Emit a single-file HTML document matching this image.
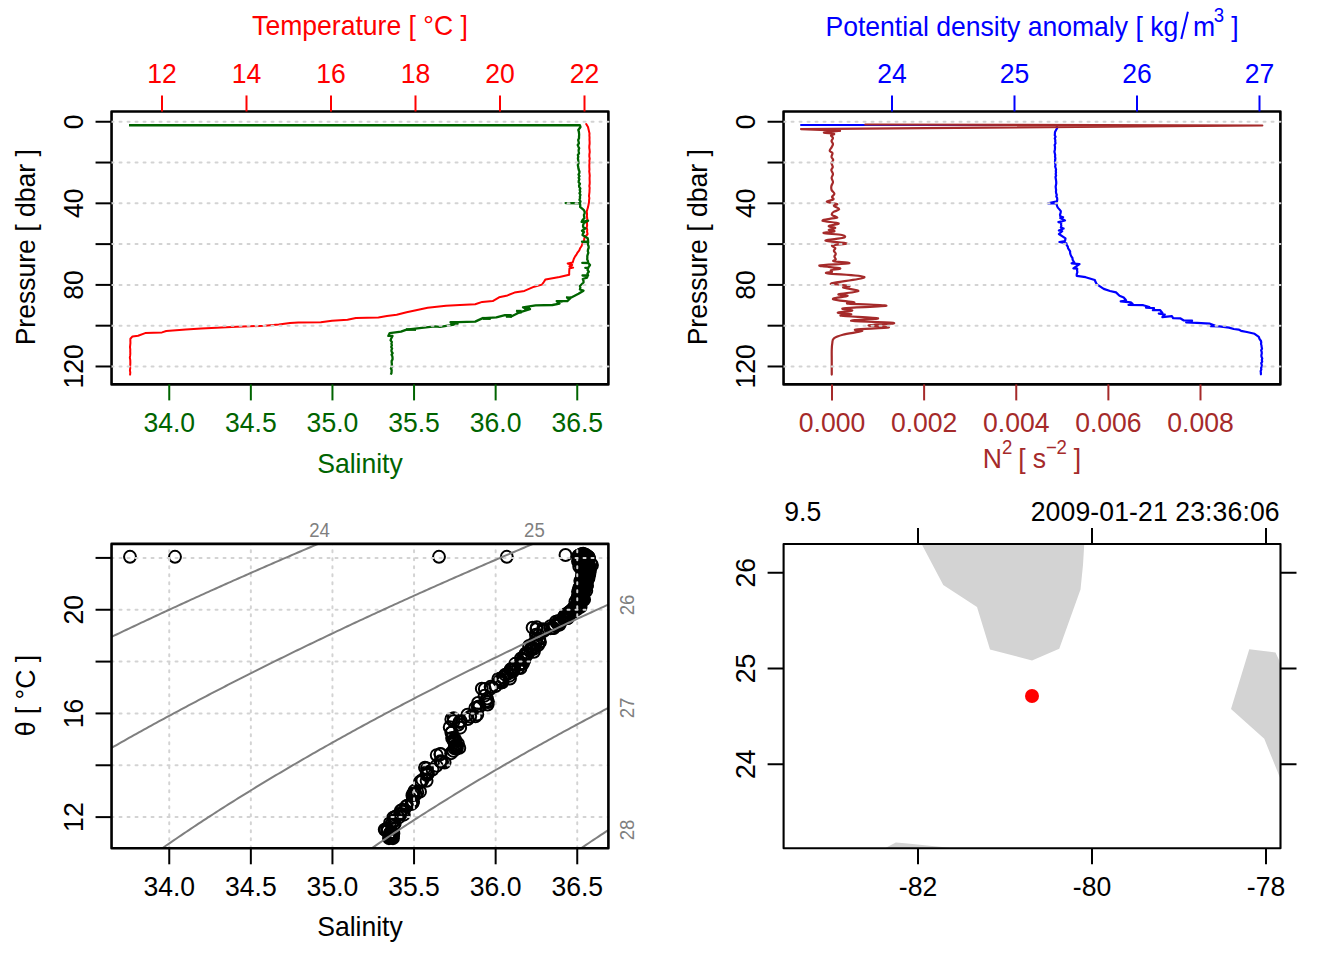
<!DOCTYPE html>
<html><head><meta charset="utf-8"><title>CTD</title>
<style>
html,body{margin:0;padding:0;background:#fff;}
body{width:1344px;height:960px;overflow:hidden;}
svg{display:block;font-family:"Liberation Sans",sans-serif;}
</style></head><body>
<svg width="1344" height="960" viewBox="0 0 1344 960" font-family="Liberation Sans, sans-serif">
<rect width="1344" height="960" fill="#fff"/>
<g id="p1">
<polyline points="586.20,124.00 588.00,127.00 589.50,133.40 589.36,135.47 589.55,137.55 589.46,139.62 589.61,141.70 589.64,143.78 589.31,145.85 589.30,147.93 589.60,150.00 589.76,152.14 589.37,154.29 589.31,156.43 589.73,158.57 589.37,160.71 589.54,162.86 589.30,165.00 589.33,167.14 589.47,169.29 589.22,171.43 589.55,173.57 589.74,175.71 589.57,177.86 589.60,180.00 589.72,182.00 589.66,184.00 589.28,186.00 589.67,188.00 589.50,190.00 589.47,192.03 589.21,194.07 588.97,196.10 589.39,198.13 589.07,200.17 589.00,202.20 588.56,204.55 588.08,206.90 587.40,209.25 586.70,211.60 587.08,213.93 586.89,216.25 587.26,218.57 587.20,220.90 587.00,223.10 587.13,225.30 586.70,227.50 587.23,229.67 587.06,231.83 587.60,234.00 584.40,237.80 583.90,241.10 582.48,243.68 581.50,246.25 580.08,248.28 579.28,250.30 577.71,252.32 576.58,254.35 575.13,256.38 574.00,258.40 573.30,260.50 572.60,262.60 567.70,263.60 572.20,265.00 569.40,266.40 573.10,267.60 569.40,268.50 569.26,270.60 569.18,272.70 569.20,274.80 559.50,276.90 545.50,279.40 543.80,282.00 542.00,284.60 534.20,286.70 524.40,290.90 514.50,292.60 507.50,295.40 499.10,297.30 492.70,301.10 482.20,301.90 475.20,304.20 460.00,305.00 446.00,305.70 427.70,307.80 406.60,312.30 396.70,314.80 386.90,316.00 378.40,317.40 355.90,317.90 347.50,319.80 332.00,320.75 320.80,322.20 298.30,322.60 290.00,323.00 278.80,324.40 264.70,325.80 236.60,326.80 201.40,328.60 185.90,329.60 166.30,331.00 162.00,332.40 145.20,333.10 138.10,335.70 132.50,336.40 130.40,338.75 130.35,340.86 130.44,342.98 130.21,345.09 130.00,347.20 130.27,349.31 130.23,351.42 130.32,353.52 130.13,355.63 129.84,357.74 130.26,359.85 130.33,361.95 130.30,364.06 130.11,366.17 130.21,368.28 129.91,370.38 130.29,372.49 130.10,374.60" fill="none" stroke="#ff0000" stroke-width="2" stroke-linejoin="round" stroke-linecap="round"/>
<polyline points="129.00,125.10 579.90,125.10 580.50,127.00 578.30,130.00 578.82,131.50 579.00,133.00 579.14,134.75 579.01,136.50 579.02,138.25 578.20,140.00 578.60,141.67 578.92,143.33 577.74,145.00 578.42,146.67 579.15,148.33 578.60,150.00 578.74,151.67 579.03,153.33 577.86,155.00 578.29,156.67 577.91,158.33 578.20,160.00 578.36,161.67 578.50,163.33 577.82,165.00 578.20,166.67 578.39,168.33 578.80,170.00 579.45,171.54 579.31,173.08 578.53,174.62 579.49,176.15 578.64,177.69 579.38,179.23 578.76,180.77 578.66,182.31 579.94,183.85 579.09,185.38 579.16,186.92 580.31,188.46 579.70,190.00 580.25,191.64 579.46,193.28 580.42,194.91 579.85,196.55 580.07,198.19 579.44,199.82 580.49,201.46 579.90,203.10 565.60,203.10 579.90,203.30 580.27,205.10 580.10,206.90 583.90,210.20 584.65,211.78 584.65,213.36 583.92,214.94 584.11,216.52 584.40,218.10 582.53,220.00 581.60,221.90 588.10,220.75 584.00,223.00 583.30,224.50 582.99,226.00 583.40,227.50 585.50,228.30 582.00,230.80 584.00,232.00 582.97,233.50 582.50,235.00 587.70,238.30 588.04,239.95 588.10,241.60 582.00,241.75 588.30,242.00 587.75,244.12 588.60,246.25 588.67,247.89 588.02,249.54 587.81,251.18 588.35,252.82 587.70,254.47 587.29,256.11 587.35,257.76 587.20,259.40 587.94,261.05 588.10,262.70 582.30,262.90 588.50,263.20 590.00,265.00 588.10,267.80 585.30,267.80 588.20,268.20 587.55,269.98 588.82,271.75 587.46,273.52 588.10,275.30 582.50,275.50 587.70,275.80 587.00,277.60 582.80,279.00 583.50,280.75 583.50,282.50 579.90,286.00 580.38,287.75 579.90,289.50 583.50,290.70 578.50,293.75 570.80,297.70 567.30,301.10 556.70,301.10 559.50,303.60 552.50,305.00 535.60,305.30 523.00,307.30 530.00,309.20 518.80,312.70 511.70,316.25 505.00,315.20 496.30,317.40 482.20,318.40 475.20,321.60 458.30,322.20 450.50,322.20 454.10,324.70 440.00,326.80 434.70,326.40 406.60,329.60 401.00,331.70 389.70,333.10 388.30,335.90 392.50,335.90 391.10,338.75 390.59,340.39 391.84,342.03 391.41,343.68 391.88,345.32 391.25,346.96 392.10,348.60 391.44,350.14 391.60,351.67 392.66,353.21 391.57,354.75 392.32,356.28 392.54,357.82 392.53,359.35 391.66,360.89 391.65,362.43 391.86,363.96 391.80,365.50 392.02,367.02 390.92,368.53 391.65,370.05 391.55,371.57 391.47,373.08 390.80,374.60" fill="none" stroke="#006400" stroke-width="2.3" stroke-linejoin="round" stroke-linecap="butt"/>
<line x1="129.00" y1="126.40" x2="579.00" y2="126.40" stroke="#006400" stroke-width="1.2" stroke-opacity="0.35"/>
<line x1="523.70" y1="307.90" x2="530.00" y2="307.90" stroke="#006400" stroke-width="1.8" />
<line x1="524.20" y1="309.10" x2="530.00" y2="309.10" stroke="#006400" stroke-width="1.8" />
<line x1="523.70" y1="307.90" x2="530.00" y2="309.10" stroke="#006400" stroke-width="1.6" />
<line x1="516.00" y1="310.70" x2="521.60" y2="310.70" stroke="#006400" stroke-width="1.8" />
<line x1="516.50" y1="312.60" x2="521.60" y2="312.60" stroke="#006400" stroke-width="1.8" />
<line x1="516.00" y1="310.70" x2="521.60" y2="312.60" stroke="#006400" stroke-width="1.6" />
<line x1="505.40" y1="314.90" x2="511.70" y2="314.90" stroke="#006400" stroke-width="1.8" />
<line x1="505.90" y1="316.90" x2="511.70" y2="316.90" stroke="#006400" stroke-width="1.8" />
<line x1="505.40" y1="314.90" x2="511.70" y2="316.90" stroke="#006400" stroke-width="1.6" />
<line x1="482.20" y1="317.80" x2="490.60" y2="317.80" stroke="#006400" stroke-width="1.8" />
<line x1="482.70" y1="319.00" x2="490.60" y2="319.00" stroke="#006400" stroke-width="1.8" />
<line x1="482.20" y1="317.80" x2="490.60" y2="319.00" stroke="#006400" stroke-width="1.6" />
<line x1="450.50" y1="322.70" x2="458.30" y2="322.70" stroke="#006400" stroke-width="1.8" />
<line x1="451.00" y1="323.90" x2="458.30" y2="323.90" stroke="#006400" stroke-width="1.8" />
<line x1="450.50" y1="322.70" x2="458.30" y2="323.90" stroke="#006400" stroke-width="1.6" />
<line x1="556.70" y1="301.30" x2="562.40" y2="301.30" stroke="#006400" stroke-width="1.8" />
<line x1="557.20" y1="301.40" x2="562.40" y2="301.40" stroke="#006400" stroke-width="1.8" />
<line x1="556.70" y1="301.30" x2="562.40" y2="301.40" stroke="#006400" stroke-width="1.6" />
<line x1="406.00" y1="329.40" x2="416.00" y2="329.40" stroke="#006400" stroke-width="1.8" />
<line x1="406.50" y1="329.80" x2="416.00" y2="329.80" stroke="#006400" stroke-width="1.8" />
<line x1="406.00" y1="329.40" x2="416.00" y2="329.80" stroke="#006400" stroke-width="1.6" />
<line x1="566.00" y1="297.30" x2="571.00" y2="297.30" stroke="#006400" stroke-width="1.8" />
<line x1="566.50" y1="298.20" x2="571.00" y2="298.20" stroke="#006400" stroke-width="1.8" />
<line x1="566.00" y1="297.30" x2="571.00" y2="298.20" stroke="#006400" stroke-width="1.6" />
<rect x="111.55" y="111.45" width="496.85" height="272.95" fill="none" stroke="#000" stroke-width="2.6" stroke-linejoin="round"/>
<line x1="111.55" y1="121.75" x2="608.40" y2="121.75" stroke="#d3d3d3" stroke-width="2" stroke-dasharray="2 6" stroke-linecap="round"/>
<line x1="111.55" y1="162.54" x2="608.40" y2="162.54" stroke="#d3d3d3" stroke-width="2" stroke-dasharray="2 6" stroke-linecap="round"/>
<line x1="111.55" y1="203.33" x2="608.40" y2="203.33" stroke="#d3d3d3" stroke-width="2" stroke-dasharray="2 6" stroke-linecap="round"/>
<line x1="111.55" y1="244.11" x2="608.40" y2="244.11" stroke="#d3d3d3" stroke-width="2" stroke-dasharray="2 6" stroke-linecap="round"/>
<line x1="111.55" y1="284.90" x2="608.40" y2="284.90" stroke="#d3d3d3" stroke-width="2" stroke-dasharray="2 6" stroke-linecap="round"/>
<line x1="111.55" y1="325.69" x2="608.40" y2="325.69" stroke="#d3d3d3" stroke-width="2" stroke-dasharray="2 6" stroke-linecap="round"/>
<line x1="111.55" y1="366.48" x2="608.40" y2="366.48" stroke="#d3d3d3" stroke-width="2" stroke-dasharray="2 6" stroke-linecap="round"/>
<line x1="95.55" y1="121.75" x2="111.55" y2="121.75" stroke="#000" stroke-width="2" />
<line x1="95.55" y1="162.54" x2="111.55" y2="162.54" stroke="#000" stroke-width="2" />
<line x1="95.55" y1="203.33" x2="111.55" y2="203.33" stroke="#000" stroke-width="2" />
<line x1="95.55" y1="244.11" x2="111.55" y2="244.11" stroke="#000" stroke-width="2" />
<line x1="95.55" y1="284.90" x2="111.55" y2="284.90" stroke="#000" stroke-width="2" />
<line x1="95.55" y1="325.69" x2="111.55" y2="325.69" stroke="#000" stroke-width="2" />
<line x1="95.55" y1="366.48" x2="111.55" y2="366.48" stroke="#000" stroke-width="2" />
<text transform="translate(82.50 121.75) rotate(-90) scale(1 1.05)" fill="#000" font-size="26.56" text-anchor="middle" >0</text>
<text transform="translate(82.50 203.33) rotate(-90) scale(1 1.05)" fill="#000" font-size="26.56" text-anchor="middle" >40</text>
<text transform="translate(82.50 284.90) rotate(-90) scale(1 1.05)" fill="#000" font-size="26.56" text-anchor="middle" >80</text>
<text transform="translate(82.50 366.48) rotate(-90) scale(1 1.05)" fill="#000" font-size="26.56" text-anchor="middle" >120</text>
<text transform="translate(35.10 247.22) rotate(-90) scale(1 1.05)" fill="#000" font-size="26.56" text-anchor="middle" >Pressure [ dbar ]</text>
<line x1="162.00" y1="95.45" x2="162.00" y2="111.45" stroke="#ff0000" stroke-width="2" />
<text transform="translate(162.00 82.80) scale(1 1.05)" fill="#ff0000" font-size="26.56" text-anchor="middle" >12</text>
<line x1="246.50" y1="95.45" x2="246.50" y2="111.45" stroke="#ff0000" stroke-width="2" />
<text transform="translate(246.50 82.80) scale(1 1.05)" fill="#ff0000" font-size="26.56" text-anchor="middle" >14</text>
<line x1="331.00" y1="95.45" x2="331.00" y2="111.45" stroke="#ff0000" stroke-width="2" />
<text transform="translate(331.00 82.80) scale(1 1.05)" fill="#ff0000" font-size="26.56" text-anchor="middle" >16</text>
<line x1="415.50" y1="95.45" x2="415.50" y2="111.45" stroke="#ff0000" stroke-width="2" />
<text transform="translate(415.50 82.80) scale(1 1.05)" fill="#ff0000" font-size="26.56" text-anchor="middle" >18</text>
<line x1="500.00" y1="95.45" x2="500.00" y2="111.45" stroke="#ff0000" stroke-width="2" />
<text transform="translate(500.00 82.80) scale(1 1.05)" fill="#ff0000" font-size="26.56" text-anchor="middle" >20</text>
<line x1="584.50" y1="95.45" x2="584.50" y2="111.45" stroke="#ff0000" stroke-width="2" />
<text transform="translate(584.50 82.80) scale(1 1.05)" fill="#ff0000" font-size="26.56" text-anchor="middle" >22</text>
<text transform="translate(359.97 35.40) scale(1 1.05)" fill="#ff0000" font-size="26.56" text-anchor="middle" >Temperature [ °C ]</text>
<line x1="169.25" y1="384.40" x2="169.25" y2="400.40" stroke="#006400" stroke-width="2" />
<text transform="translate(169.25 431.60) scale(1 1.05)" fill="#006400" font-size="26.56" text-anchor="middle" >34.0</text>
<line x1="250.85" y1="384.40" x2="250.85" y2="400.40" stroke="#006400" stroke-width="2" />
<text transform="translate(250.85 431.60) scale(1 1.05)" fill="#006400" font-size="26.56" text-anchor="middle" >34.5</text>
<line x1="332.45" y1="384.40" x2="332.45" y2="400.40" stroke="#006400" stroke-width="2" />
<text transform="translate(332.45 431.60) scale(1 1.05)" fill="#006400" font-size="26.56" text-anchor="middle" >35.0</text>
<line x1="414.05" y1="384.40" x2="414.05" y2="400.40" stroke="#006400" stroke-width="2" />
<text transform="translate(414.05 431.60) scale(1 1.05)" fill="#006400" font-size="26.56" text-anchor="middle" >35.5</text>
<line x1="495.65" y1="384.40" x2="495.65" y2="400.40" stroke="#006400" stroke-width="2" />
<text transform="translate(495.65 431.60) scale(1 1.05)" fill="#006400" font-size="26.56" text-anchor="middle" >36.0</text>
<line x1="577.25" y1="384.40" x2="577.25" y2="400.40" stroke="#006400" stroke-width="2" />
<text transform="translate(577.25 431.60) scale(1 1.05)" fill="#006400" font-size="26.56" text-anchor="middle" >36.5</text>
<text transform="translate(359.97 472.60) scale(1 1.05)" fill="#006400" font-size="26.56" text-anchor="middle" >Salinity</text>
</g>
<g id="p2">
<polyline points="801.10,125.00 1056.60,125.00 1057.20,128.00 1056.06,130.00 1055.00,132.00 1054.93,133.60 1054.76,135.20 1055.55,136.80 1054.75,138.40 1055.30,140.00 1055.22,141.67 1055.53,143.33 1054.63,145.00 1055.02,146.67 1055.00,148.33 1054.80,150.00 1054.41,151.67 1054.81,153.33 1055.20,155.00 1055.02,156.67 1055.36,158.33 1055.20,160.00 1054.96,161.67 1055.14,163.33 1055.50,165.00 1055.16,166.50 1055.61,168.00 1056.07,169.50 1055.79,171.00 1056.02,172.50 1055.68,174.00 1056.10,175.50 1055.50,177.00 1055.74,178.50 1056.00,180.00 1056.19,181.67 1056.26,183.33 1055.97,185.00 1055.65,186.67 1055.85,188.33 1056.10,190.00 1055.94,191.61 1056.14,193.21 1056.80,194.82 1056.31,196.43 1057.13,198.04 1057.25,199.64 1057.00,201.25 1048.10,203.30 1056.60,203.30 1057.00,205.90 1057.82,207.63 1059.41,209.37 1060.80,211.10 1060.63,212.82 1059.99,214.53 1060.30,216.25 1063.10,217.20 1060.30,218.10 1065.00,220.50 1058.40,222.10 1061.25,222.80 1061.02,224.37 1061.36,225.93 1060.80,227.50 1063.60,228.60 1058.90,230.50 1062.20,231.25 1058.90,234.00 1065.50,238.30 1065.00,241.10 1059.40,242.00 1066.40,243.40 1066.68,245.01 1067.83,246.62 1068.02,248.22 1069.15,249.83 1070.13,251.44 1070.10,253.05 1070.57,254.66 1071.32,256.27 1072.44,257.88 1072.58,259.48 1073.32,261.09 1074.40,262.70 1071.60,263.30 1079.50,264.10 1073.40,268.30 1077.20,268.60 1077.07,270.40 1077.37,272.20 1076.75,274.00 1076.70,275.80 1085.60,277.20 1094.80,280.00 1095.60,282.05 1096.60,284.10 1103.75,288.90 1110.00,291.00 1116.00,292.40 1119.50,295.70 1123.70,297.50 1125.04,299.00 1126.10,300.50 1120.70,301.40 1130.80,302.30 1132.60,303.80 1128.50,305.00 1143.30,305.20 1149.30,307.00 1146.00,307.60 1154.00,308.20 1152.90,310.20 1160.00,310.00 1162.40,313.00 1158.80,313.60 1164.80,314.50 1162.40,317.10 1171.90,316.20 1173.10,318.10 1180.20,318.30 1183.80,320.50 1192.10,320.70 1186.20,322.50 1196.90,322.90 1210.00,323.70 1214.80,325.50 1210.60,326.10 1219.50,326.40 1229.00,327.60 1233.80,329.00 1238.60,329.60 1241.00,330.80 1246.90,332.00 1254.60,333.80 1258.80,336.80 1259.49,338.90 1261.00,341.00 1261.25,342.50 1261.01,344.00 1261.50,345.50 1261.64,347.11 1262.02,348.72 1261.15,350.33 1261.69,351.94 1261.77,353.56 1261.35,355.17 1261.50,356.78 1262.26,358.39 1261.80,360.00 1262.20,361.59 1261.22,363.18 1261.71,364.77 1261.85,366.36 1261.04,367.94 1261.31,369.53 1260.64,371.12 1260.87,372.71 1260.90,374.30" fill="none" stroke="#0000ff" stroke-width="2.2" stroke-linejoin="round" stroke-linecap="round"/>
<polyline points="865.30,124.50 1262.30,125.50 801.00,129.10 840.00,130.70" fill="none" stroke="#a52a2a" stroke-width="2.2" stroke-linejoin="round" stroke-linecap="round"/>
<path d="M840.00,130.70 C837.12,131.04 825.08,132.04 824.00,132.60 C822.92,133.16 832.74,133.28 834.00,133.80 C835.26,134.32 831.18,134.74 831.00,135.50 C830.82,136.26 832.91,137.01 833.00,138.00 C833.09,138.99 831.50,139.92 831.50,141.00 C831.50,142.08 832.95,142.92 833.00,144.00 C833.05,145.08 832.39,145.78 831.80,147.00 C831.21,148.22 829.57,149.72 829.70,150.80 C829.83,151.88 832.18,151.88 832.50,153.00 C832.82,154.12 831.37,155.74 831.50,157.00 C831.63,158.26 833.20,158.92 833.20,160.00 C833.20,161.08 831.57,161.74 831.50,163.00 C831.43,164.26 832.84,165.74 832.80,167.00 C832.76,168.26 831.26,168.74 831.30,170.00 C831.34,171.26 832.95,172.56 833.00,174.00 C833.05,175.44 831.60,176.56 831.60,178.00 C831.60,179.44 833.04,180.56 833.00,182.00 C832.96,183.44 831.65,184.56 831.40,186.00 C831.15,187.44 831.06,188.60 831.60,190.00 C832.14,191.40 834.33,192.49 834.40,193.75 C834.47,195.01 832.18,195.98 832.00,197.00 C831.82,198.02 834.32,198.61 833.40,199.40 C832.48,200.19 827.40,200.81 826.90,201.40 C826.40,201.99 828.75,202.21 830.60,202.70 C832.45,203.19 836.61,203.52 837.20,204.10 C837.79,204.68 833.53,204.98 833.90,205.90 C834.27,206.82 839.34,208.10 839.25,209.20 C839.16,210.30 834.70,210.99 833.40,212.00 C832.10,213.01 831.28,213.77 832.00,214.80 C832.72,215.83 837.65,217.02 837.40,217.70 C837.15,218.38 833.25,218.02 830.60,218.60 C827.95,219.18 821.26,220.05 822.70,220.90 C824.14,221.75 837.51,222.36 838.60,223.30 C839.69,224.24 829.34,225.25 828.75,226.10 C828.16,226.95 835.30,227.33 835.30,228.00 C835.30,228.67 828.91,229.22 828.75,229.80 C828.59,230.39 835.33,230.66 834.40,231.25 C833.47,231.84 822.25,232.42 823.60,233.10 C824.95,233.78 838.35,234.15 841.90,235.00 C845.45,235.85 846.25,236.79 843.30,237.80 C840.35,238.81 824.91,239.59 825.50,240.60 C826.09,241.61 845.34,242.55 846.60,243.40 C847.86,244.25 834.53,244.45 832.50,245.30 C830.47,246.15 835.05,247.09 835.30,248.10 C835.55,249.11 833.81,249.88 833.90,250.90 C833.99,251.92 835.71,252.72 835.80,253.75 C835.89,254.78 834.40,255.58 834.40,256.60 C834.40,257.62 835.89,258.56 835.80,259.40 C835.71,260.24 831.49,260.55 833.90,261.25 C836.31,261.95 851.81,262.54 849.20,263.30 C846.59,264.06 821.06,264.60 819.40,265.50 C817.74,266.40 837.89,267.45 840.00,268.30 C842.11,269.15 832.54,269.53 831.10,270.20 C829.66,270.87 832.59,271.42 832.00,272.00 C831.41,272.58 821.97,272.48 827.80,273.40 C833.63,274.32 863.55,275.35 864.40,277.10 C865.25,278.85 837.40,281.77 832.50,283.10 C827.60,284.43 834.16,283.96 837.20,284.50 C840.24,285.04 848.30,285.54 849.40,286.10 C850.50,286.66 841.70,286.70 843.30,287.60 C844.90,288.50 859.15,289.91 858.30,291.10 C857.45,292.29 840.54,293.35 838.60,294.20 C836.66,295.05 848.51,294.92 847.50,295.80 C846.49,296.68 831.83,297.93 833.00,299.10 C834.17,300.27 851.23,301.49 854.00,302.30 C856.77,303.11 842.57,302.97 848.40,303.60 C854.23,304.23 887.24,304.96 886.40,305.80 C885.56,306.64 849.91,307.40 843.75,308.25 C837.59,309.10 853.29,309.70 852.20,310.50 C851.11,311.30 837.87,312.05 837.70,312.70 C837.53,313.35 850.58,313.55 851.25,314.10 C851.92,314.65 836.58,314.99 841.40,315.75 C846.22,316.51 876.23,317.39 878.00,318.30 C879.77,319.21 848.39,319.95 851.25,320.80 C854.11,321.65 890.78,322.19 893.90,323.00 C897.02,323.81 869.53,324.51 868.60,325.30 C867.67,326.09 891.04,326.64 888.75,327.40 C886.46,328.16 860.72,328.83 855.90,329.50 C851.08,330.17 864.36,330.16 862.00,331.10 C859.64,332.04 847.86,333.39 842.80,334.70 C837.74,336.01 835.79,336.89 833.90,338.40 C832.01,339.91 832.69,341.07 832.30,343.10 C831.91,345.13 831.85,346.66 831.75,349.70 C831.65,352.74 831.75,355.52 831.75,360.00 C831.75,364.48 831.75,371.97 831.75,374.60" fill="none" stroke="#a52a2a" stroke-width="2.2" stroke-linejoin="round" stroke-linecap="round"/>
<rect x="783.55" y="111.45" width="496.85" height="272.95" fill="none" stroke="#000" stroke-width="2.6" stroke-linejoin="round"/>
<line x1="783.55" y1="121.75" x2="1280.40" y2="121.75" stroke="#d3d3d3" stroke-width="2" stroke-dasharray="2 6" stroke-linecap="round"/>
<line x1="783.55" y1="162.54" x2="1280.40" y2="162.54" stroke="#d3d3d3" stroke-width="2" stroke-dasharray="2 6" stroke-linecap="round"/>
<line x1="783.55" y1="203.33" x2="1280.40" y2="203.33" stroke="#d3d3d3" stroke-width="2" stroke-dasharray="2 6" stroke-linecap="round"/>
<line x1="783.55" y1="244.11" x2="1280.40" y2="244.11" stroke="#d3d3d3" stroke-width="2" stroke-dasharray="2 6" stroke-linecap="round"/>
<line x1="783.55" y1="284.90" x2="1280.40" y2="284.90" stroke="#d3d3d3" stroke-width="2" stroke-dasharray="2 6" stroke-linecap="round"/>
<line x1="783.55" y1="325.69" x2="1280.40" y2="325.69" stroke="#d3d3d3" stroke-width="2" stroke-dasharray="2 6" stroke-linecap="round"/>
<line x1="783.55" y1="366.48" x2="1280.40" y2="366.48" stroke="#d3d3d3" stroke-width="2" stroke-dasharray="2 6" stroke-linecap="round"/>
<line x1="767.55" y1="121.75" x2="783.55" y2="121.75" stroke="#000" stroke-width="2" />
<line x1="767.55" y1="162.54" x2="783.55" y2="162.54" stroke="#000" stroke-width="2" />
<line x1="767.55" y1="203.33" x2="783.55" y2="203.33" stroke="#000" stroke-width="2" />
<line x1="767.55" y1="244.11" x2="783.55" y2="244.11" stroke="#000" stroke-width="2" />
<line x1="767.55" y1="284.90" x2="783.55" y2="284.90" stroke="#000" stroke-width="2" />
<line x1="767.55" y1="325.69" x2="783.55" y2="325.69" stroke="#000" stroke-width="2" />
<line x1="767.55" y1="366.48" x2="783.55" y2="366.48" stroke="#000" stroke-width="2" />
<text transform="translate(754.50 121.75) rotate(-90) scale(1 1.05)" fill="#000" font-size="26.56" text-anchor="middle" >0</text>
<text transform="translate(754.50 203.33) rotate(-90) scale(1 1.05)" fill="#000" font-size="26.56" text-anchor="middle" >40</text>
<text transform="translate(754.50 284.90) rotate(-90) scale(1 1.05)" fill="#000" font-size="26.56" text-anchor="middle" >80</text>
<text transform="translate(754.50 366.48) rotate(-90) scale(1 1.05)" fill="#000" font-size="26.56" text-anchor="middle" >120</text>
<text transform="translate(707.10 247.22) rotate(-90) scale(1 1.05)" fill="#000" font-size="26.56" text-anchor="middle" >Pressure [ dbar ]</text>
<line x1="892.00" y1="95.45" x2="892.00" y2="111.45" stroke="#0000ff" stroke-width="2" />
<text transform="translate(892.00 82.80) scale(1 1.05)" fill="#0000ff" font-size="26.56" text-anchor="middle" >24</text>
<line x1="1014.50" y1="95.45" x2="1014.50" y2="111.45" stroke="#0000ff" stroke-width="2" />
<text transform="translate(1014.50 82.80) scale(1 1.05)" fill="#0000ff" font-size="26.56" text-anchor="middle" >25</text>
<line x1="1137.00" y1="95.45" x2="1137.00" y2="111.45" stroke="#0000ff" stroke-width="2" />
<text transform="translate(1137.00 82.80) scale(1 1.05)" fill="#0000ff" font-size="26.56" text-anchor="middle" >26</text>
<line x1="1259.50" y1="95.45" x2="1259.50" y2="111.45" stroke="#0000ff" stroke-width="2" />
<text transform="translate(1259.50 82.80) scale(1 1.05)" fill="#0000ff" font-size="26.56" text-anchor="middle" >27</text>
<text transform="translate(825.50 35.50) scale(1 1.05)" fill="#0000ff" font-size="26.56" text-anchor="start" >Potential density anomaly [ kg</text>
<line x1="1181.30" y1="39.00" x2="1187.90" y2="11.80" stroke="#0000ff" stroke-width="2" />
<text transform="translate(1193.00 35.50) scale(1 1.05)" fill="#0000ff" font-size="26.56" text-anchor="start" >m</text>
<text transform="translate(1213.80 21.80) scale(1 1.05)" fill="#0000ff" font-size="18.6" text-anchor="start" >3</text>
<text transform="translate(1231.20 35.50) scale(1 1.05)" fill="#0000ff" font-size="26.56" text-anchor="start" >]</text>
<line x1="832.00" y1="384.40" x2="832.00" y2="400.40" stroke="#a52a2a" stroke-width="2" />
<text transform="translate(832.00 431.60) scale(1 1.05)" fill="#a52a2a" font-size="26.56" text-anchor="middle" >0.000</text>
<line x1="924.12" y1="384.40" x2="924.12" y2="400.40" stroke="#a52a2a" stroke-width="2" />
<text transform="translate(924.12 431.60) scale(1 1.05)" fill="#a52a2a" font-size="26.56" text-anchor="middle" >0.002</text>
<line x1="1016.25" y1="384.40" x2="1016.25" y2="400.40" stroke="#a52a2a" stroke-width="2" />
<text transform="translate(1016.25 431.60) scale(1 1.05)" fill="#a52a2a" font-size="26.56" text-anchor="middle" >0.004</text>
<line x1="1108.37" y1="384.40" x2="1108.37" y2="400.40" stroke="#a52a2a" stroke-width="2" />
<text transform="translate(1108.37 431.60) scale(1 1.05)" fill="#a52a2a" font-size="26.56" text-anchor="middle" >0.006</text>
<line x1="1200.50" y1="384.40" x2="1200.50" y2="400.40" stroke="#a52a2a" stroke-width="2" />
<text transform="translate(1200.50 431.60) scale(1 1.05)" fill="#a52a2a" font-size="26.56" text-anchor="middle" >0.008</text>
<text transform="translate(982.70 467.90) scale(1 1.05)" fill="#a52a2a" font-size="26.56" text-anchor="start" >N</text>
<text transform="translate(1001.90 454.10) scale(1 1.05)" fill="#a52a2a" font-size="18.6" text-anchor="start" >2</text>
<text transform="translate(1018.30 467.90) scale(1 1.05)" fill="#a52a2a" font-size="26.56" text-anchor="start" >[</text>
<text transform="translate(1032.80 467.90) scale(1 1.05)" fill="#a52a2a" font-size="26.56" text-anchor="start" >s</text>
<text transform="translate(1045.90 454.10) scale(1 1.05)" fill="#a52a2a" font-size="18.6" text-anchor="start" >−</text>
<text transform="translate(1056.50 454.10) scale(1 1.05)" fill="#a52a2a" font-size="18.6" text-anchor="start" >2</text>
<text transform="translate(1073.80 467.90) scale(1 1.05)" fill="#a52a2a" font-size="26.56" text-anchor="start" >]</text>
</g>
<g id="p3">
<clipPath id="c3"><rect x="111.55" y="543.9" width="496.84999999999997" height="304.4"/></clipPath>
<g fill="none" stroke="#000" stroke-width="2" clip-path="url(#c3)">
<circle cx="130.0" cy="556.8" r="5.95"/>
<circle cx="175.0" cy="556.8" r="5.95"/>
<circle cx="439.0" cy="556.8" r="5.95"/>
<circle cx="506.8" cy="556.8" r="5.95"/>
<circle cx="565.5" cy="555.0" r="5.95"/>
<circle cx="580.9" cy="555.3" r="5.95"/>
<circle cx="580.9" cy="554.5" r="5.95"/>
<circle cx="583.2" cy="553.6" r="5.95"/>
<circle cx="582.6" cy="554.5" r="5.95"/>
<circle cx="581.6" cy="554.3" r="5.95"/>
<circle cx="578.5" cy="555.7" r="5.95"/>
<circle cx="581.9" cy="555.5" r="5.95"/>
<circle cx="584.7" cy="554.7" r="5.95"/>
<circle cx="585.6" cy="554.8" r="5.95"/>
<circle cx="579.1" cy="555.4" r="5.95"/>
<circle cx="582.2" cy="556.4" r="5.95"/>
<circle cx="578.6" cy="557.2" r="5.95"/>
<circle cx="585.2" cy="554.9" r="5.95"/>
<circle cx="578.3" cy="556.7" r="5.95"/>
<circle cx="585.6" cy="555.8" r="5.95"/>
<circle cx="586.7" cy="556.0" r="5.95"/>
<circle cx="587.7" cy="556.2" r="5.95"/>
<circle cx="581.6" cy="557.8" r="5.95"/>
<circle cx="582.2" cy="557.4" r="5.95"/>
<circle cx="584.7" cy="555.7" r="5.95"/>
<circle cx="588.8" cy="557.2" r="5.95"/>
<circle cx="584.5" cy="557.4" r="5.95"/>
<circle cx="583.9" cy="558.7" r="5.95"/>
<circle cx="583.6" cy="558.4" r="5.95"/>
<circle cx="583.7" cy="557.4" r="5.95"/>
<circle cx="584.4" cy="559.3" r="5.95"/>
<circle cx="582.7" cy="558.3" r="5.95"/>
<circle cx="580.9" cy="560.1" r="5.95"/>
<circle cx="588.8" cy="557.9" r="5.95"/>
<circle cx="588.6" cy="558.1" r="5.95"/>
<circle cx="578.0" cy="561.4" r="5.95"/>
<circle cx="582.7" cy="560.6" r="5.95"/>
<circle cx="587.7" cy="558.8" r="5.95"/>
<circle cx="583.3" cy="560.1" r="5.95"/>
<circle cx="588.9" cy="558.1" r="5.95"/>
<circle cx="587.3" cy="559.8" r="5.95"/>
<circle cx="579.9" cy="562.5" r="5.95"/>
<circle cx="587.3" cy="560.2" r="5.95"/>
<circle cx="581.8" cy="561.8" r="5.95"/>
<circle cx="584.0" cy="561.2" r="5.95"/>
<circle cx="584.5" cy="561.9" r="5.95"/>
<circle cx="583.5" cy="562.1" r="5.95"/>
<circle cx="581.4" cy="562.7" r="5.95"/>
<circle cx="582.6" cy="562.6" r="5.95"/>
<circle cx="581.6" cy="563.4" r="5.95"/>
<circle cx="585.2" cy="562.8" r="5.95"/>
<circle cx="586.4" cy="562.6" r="5.95"/>
<circle cx="587.7" cy="562.5" r="5.95"/>
<circle cx="586.3" cy="562.2" r="5.95"/>
<circle cx="583.4" cy="562.4" r="5.95"/>
<circle cx="585.3" cy="563.2" r="5.95"/>
<circle cx="584.0" cy="563.3" r="5.95"/>
<circle cx="584.1" cy="564.0" r="5.95"/>
<circle cx="581.4" cy="564.9" r="5.95"/>
<circle cx="582.3" cy="564.1" r="5.95"/>
<circle cx="587.2" cy="564.2" r="5.95"/>
<circle cx="583.3" cy="565.1" r="5.95"/>
<circle cx="581.8" cy="565.6" r="5.95"/>
<circle cx="579.2" cy="566.6" r="5.95"/>
<circle cx="586.1" cy="564.9" r="5.95"/>
<circle cx="585.3" cy="566.8" r="5.95"/>
<circle cx="587.8" cy="564.9" r="5.95"/>
<circle cx="585.0" cy="565.0" r="5.95"/>
<circle cx="590.8" cy="563.3" r="5.95"/>
<circle cx="587.3" cy="565.3" r="5.95"/>
<circle cx="588.8" cy="565.8" r="5.95"/>
<circle cx="592.0" cy="565.1" r="5.95"/>
<circle cx="587.7" cy="566.4" r="5.95"/>
<circle cx="581.2" cy="568.3" r="5.95"/>
<circle cx="582.7" cy="567.5" r="5.95"/>
<circle cx="587.4" cy="568.7" r="5.95"/>
<circle cx="585.0" cy="567.1" r="5.95"/>
<circle cx="583.2" cy="569.0" r="5.95"/>
<circle cx="589.9" cy="567.0" r="5.95"/>
<circle cx="587.1" cy="567.0" r="5.95"/>
<circle cx="588.2" cy="569.6" r="5.95"/>
<circle cx="588.6" cy="567.6" r="5.95"/>
<circle cx="588.0" cy="569.5" r="5.95"/>
<circle cx="589.6" cy="568.8" r="5.95"/>
<circle cx="585.9" cy="568.7" r="5.95"/>
<circle cx="585.2" cy="568.5" r="5.95"/>
<circle cx="584.8" cy="569.2" r="5.95"/>
<circle cx="589.5" cy="570.0" r="5.95"/>
<circle cx="586.9" cy="569.5" r="5.95"/>
<circle cx="587.9" cy="568.8" r="5.95"/>
<circle cx="586.6" cy="570.2" r="5.95"/>
<circle cx="587.2" cy="569.8" r="5.95"/>
<circle cx="585.4" cy="570.7" r="5.95"/>
<circle cx="589.9" cy="570.6" r="5.95"/>
<circle cx="589.4" cy="572.7" r="5.95"/>
<circle cx="582.0" cy="571.2" r="5.95"/>
<circle cx="584.8" cy="571.5" r="5.95"/>
<circle cx="586.0" cy="571.0" r="5.95"/>
<circle cx="589.1" cy="573.6" r="5.95"/>
<circle cx="585.9" cy="573.7" r="5.95"/>
<circle cx="589.3" cy="574.4" r="5.95"/>
<circle cx="587.8" cy="573.8" r="5.95"/>
<circle cx="585.1" cy="573.8" r="5.95"/>
<circle cx="586.5" cy="573.1" r="5.95"/>
<circle cx="583.5" cy="573.2" r="5.95"/>
<circle cx="585.9" cy="573.1" r="5.95"/>
<circle cx="584.7" cy="574.8" r="5.95"/>
<circle cx="582.6" cy="574.7" r="5.95"/>
<circle cx="585.5" cy="574.6" r="5.95"/>
<circle cx="585.8" cy="573.3" r="5.95"/>
<circle cx="583.3" cy="575.5" r="5.95"/>
<circle cx="582.7" cy="575.1" r="5.95"/>
<circle cx="586.9" cy="575.9" r="5.95"/>
<circle cx="586.0" cy="576.3" r="5.95"/>
<circle cx="587.2" cy="577.2" r="5.95"/>
<circle cx="582.2" cy="575.5" r="5.95"/>
<circle cx="583.3" cy="575.9" r="5.95"/>
<circle cx="585.6" cy="576.0" r="5.95"/>
<circle cx="585.3" cy="577.6" r="5.95"/>
<circle cx="585.0" cy="577.0" r="5.95"/>
<circle cx="581.8" cy="577.7" r="5.95"/>
<circle cx="584.7" cy="577.8" r="5.95"/>
<circle cx="584.6" cy="577.6" r="5.95"/>
<circle cx="584.7" cy="578.6" r="5.95"/>
<circle cx="585.5" cy="577.9" r="5.95"/>
<circle cx="588.5" cy="578.3" r="5.95"/>
<circle cx="583.9" cy="579.2" r="5.95"/>
<circle cx="582.5" cy="578.8" r="5.95"/>
<circle cx="586.1" cy="579.8" r="5.95"/>
<circle cx="584.4" cy="579.3" r="5.95"/>
<circle cx="587.0" cy="581.2" r="5.95"/>
<circle cx="582.0" cy="580.1" r="5.95"/>
<circle cx="583.1" cy="580.9" r="5.95"/>
<circle cx="584.0" cy="580.1" r="5.95"/>
<circle cx="580.3" cy="580.8" r="5.95"/>
<circle cx="582.8" cy="581.2" r="5.95"/>
<circle cx="583.9" cy="581.8" r="5.95"/>
<circle cx="585.7" cy="581.5" r="5.95"/>
<circle cx="584.8" cy="582.7" r="5.95"/>
<circle cx="584.0" cy="582.1" r="5.95"/>
<circle cx="582.4" cy="581.7" r="5.95"/>
<circle cx="583.4" cy="582.1" r="5.95"/>
<circle cx="587.0" cy="585.7" r="5.95"/>
<circle cx="583.1" cy="582.8" r="5.95"/>
<circle cx="585.2" cy="582.4" r="5.95"/>
<circle cx="585.5" cy="584.0" r="5.95"/>
<circle cx="583.7" cy="584.5" r="5.95"/>
<circle cx="581.6" cy="583.0" r="5.95"/>
<circle cx="585.5" cy="583.9" r="5.95"/>
<circle cx="584.0" cy="584.7" r="5.95"/>
<circle cx="582.7" cy="584.3" r="5.95"/>
<circle cx="584.9" cy="585.4" r="5.95"/>
<circle cx="586.7" cy="585.8" r="5.95"/>
<circle cx="583.0" cy="584.4" r="5.95"/>
<circle cx="584.0" cy="586.0" r="5.95"/>
<circle cx="582.3" cy="585.9" r="5.95"/>
<circle cx="584.6" cy="584.9" r="5.95"/>
<circle cx="585.3" cy="585.8" r="5.95"/>
<circle cx="582.2" cy="586.6" r="5.95"/>
<circle cx="582.4" cy="587.0" r="5.95"/>
<circle cx="579.9" cy="587.3" r="5.95"/>
<circle cx="582.6" cy="587.0" r="5.95"/>
<circle cx="580.0" cy="587.2" r="5.95"/>
<circle cx="585.0" cy="588.4" r="5.95"/>
<circle cx="583.1" cy="587.9" r="5.95"/>
<circle cx="579.1" cy="588.1" r="5.95"/>
<circle cx="583.2" cy="589.0" r="5.95"/>
<circle cx="583.3" cy="589.6" r="5.95"/>
<circle cx="582.9" cy="589.1" r="5.95"/>
<circle cx="586.3" cy="590.8" r="5.95"/>
<circle cx="580.7" cy="589.0" r="5.95"/>
<circle cx="583.4" cy="589.9" r="5.95"/>
<circle cx="583.2" cy="590.2" r="5.95"/>
<circle cx="584.2" cy="590.9" r="5.95"/>
<circle cx="581.0" cy="590.8" r="5.95"/>
<circle cx="581.2" cy="592.1" r="5.95"/>
<circle cx="579.1" cy="589.2" r="5.95"/>
<circle cx="583.3" cy="589.5" r="5.95"/>
<circle cx="578.0" cy="591.8" r="5.95"/>
<circle cx="582.4" cy="593.1" r="5.95"/>
<circle cx="579.7" cy="593.0" r="5.95"/>
<circle cx="582.6" cy="591.7" r="5.95"/>
<circle cx="583.2" cy="592.8" r="5.95"/>
<circle cx="580.1" cy="594.1" r="5.95"/>
<circle cx="583.3" cy="593.3" r="5.95"/>
<circle cx="579.3" cy="591.5" r="5.95"/>
<circle cx="580.7" cy="594.1" r="5.95"/>
<circle cx="580.7" cy="593.3" r="5.95"/>
<circle cx="581.1" cy="595.0" r="5.95"/>
<circle cx="580.2" cy="593.5" r="5.95"/>
<circle cx="582.3" cy="595.8" r="5.95"/>
<circle cx="581.1" cy="595.3" r="5.95"/>
<circle cx="582.7" cy="596.8" r="5.95"/>
<circle cx="579.4" cy="594.4" r="5.95"/>
<circle cx="579.9" cy="595.8" r="5.95"/>
<circle cx="581.3" cy="594.8" r="5.95"/>
<circle cx="582.5" cy="596.0" r="5.95"/>
<circle cx="583.1" cy="596.3" r="5.95"/>
<circle cx="579.2" cy="597.9" r="5.95"/>
<circle cx="579.6" cy="595.4" r="5.95"/>
<circle cx="583.2" cy="598.4" r="5.95"/>
<circle cx="581.1" cy="595.4" r="5.95"/>
<circle cx="578.8" cy="597.0" r="5.95"/>
<circle cx="577.6" cy="597.1" r="5.95"/>
<circle cx="581.3" cy="598.3" r="5.95"/>
<circle cx="584.1" cy="599.7" r="5.95"/>
<circle cx="582.8" cy="600.3" r="5.95"/>
<circle cx="579.1" cy="597.6" r="5.95"/>
<circle cx="583.1" cy="599.4" r="5.95"/>
<circle cx="578.9" cy="598.4" r="5.95"/>
<circle cx="579.6" cy="601.0" r="5.95"/>
<circle cx="579.8" cy="600.3" r="5.95"/>
<circle cx="577.8" cy="598.5" r="5.95"/>
<circle cx="579.0" cy="598.6" r="5.95"/>
<circle cx="580.7" cy="600.8" r="5.95"/>
<circle cx="575.4" cy="601.7" r="5.95"/>
<circle cx="577.3" cy="598.1" r="5.95"/>
<circle cx="578.2" cy="600.9" r="5.95"/>
<circle cx="579.4" cy="604.8" r="5.95"/>
<circle cx="578.9" cy="599.4" r="5.95"/>
<circle cx="581.2" cy="600.9" r="5.95"/>
<circle cx="573.7" cy="608.0" r="5.95"/>
<circle cx="577.3" cy="607.0" r="5.95"/>
<circle cx="578.3" cy="607.5" r="5.95"/>
<circle cx="575.9" cy="608.7" r="5.95"/>
<circle cx="574.3" cy="606.8" r="5.95"/>
<circle cx="576.8" cy="609.3" r="5.95"/>
<circle cx="576.6" cy="608.4" r="5.95"/>
<circle cx="575.8" cy="608.4" r="5.95"/>
<circle cx="579.5" cy="606.8" r="5.95"/>
<circle cx="580.6" cy="606.9" r="5.95"/>
<circle cx="570.0" cy="611.8" r="5.95"/>
<circle cx="568.3" cy="612.7" r="5.95"/>
<circle cx="570.0" cy="611.9" r="5.95"/>
<circle cx="569.7" cy="612.2" r="5.95"/>
<circle cx="566.5" cy="614.2" r="5.95"/>
<circle cx="571.1" cy="610.3" r="5.95"/>
<circle cx="572.9" cy="612.0" r="5.95"/>
<circle cx="568.7" cy="613.0" r="5.95"/>
<circle cx="564.1" cy="616.3" r="5.95"/>
<circle cx="566.4" cy="617.4" r="5.95"/>
<circle cx="565.5" cy="617.0" r="5.95"/>
<circle cx="566.9" cy="618.1" r="5.95"/>
<circle cx="565.2" cy="618.4" r="5.95"/>
<circle cx="565.2" cy="615.5" r="5.95"/>
<circle cx="567.7" cy="618.0" r="5.95"/>
<circle cx="563.9" cy="619.0" r="5.95"/>
<circle cx="566.0" cy="614.8" r="5.95"/>
<circle cx="568.0" cy="617.8" r="5.95"/>
<circle cx="566.8" cy="617.6" r="5.95"/>
<circle cx="565.2" cy="614.8" r="5.95"/>
<circle cx="567.0" cy="617.3" r="5.95"/>
<circle cx="564.9" cy="617.9" r="5.95"/>
<circle cx="565.5" cy="618.4" r="5.95"/>
<circle cx="564.8" cy="617.2" r="5.95"/>
<circle cx="557.5" cy="623.6" r="5.95"/>
<circle cx="558.2" cy="623.1" r="5.95"/>
<circle cx="558.5" cy="624.6" r="5.95"/>
<circle cx="558.6" cy="620.9" r="5.95"/>
<circle cx="555.9" cy="621.6" r="5.95"/>
<circle cx="559.6" cy="624.7" r="5.95"/>
<circle cx="554.5" cy="625.1" r="5.95"/>
<circle cx="553.7" cy="628.1" r="5.95"/>
<circle cx="552.5" cy="628.1" r="5.95"/>
<circle cx="550.4" cy="628.4" r="5.95"/>
<circle cx="550.4" cy="626.1" r="5.95"/>
<circle cx="543.9" cy="630.8" r="5.95"/>
<circle cx="543.0" cy="629.1" r="5.95"/>
<circle cx="543.4" cy="630.5" r="5.95"/>
<circle cx="532.6" cy="627.7" r="5.95"/>
<circle cx="536.4" cy="629.3" r="5.95"/>
<circle cx="536.8" cy="627.3" r="5.95"/>
<circle cx="535.9" cy="634.6" r="5.95"/>
<circle cx="538.4" cy="635.0" r="5.95"/>
<circle cx="539.3" cy="639.1" r="5.95"/>
<circle cx="535.8" cy="643.3" r="5.95"/>
<circle cx="538.1" cy="645.1" r="5.95"/>
<circle cx="539.6" cy="642.0" r="5.95"/>
<circle cx="536.2" cy="639.3" r="5.95"/>
<circle cx="539.9" cy="642.1" r="5.95"/>
<circle cx="533.8" cy="648.9" r="5.95"/>
<circle cx="533.6" cy="645.0" r="5.95"/>
<circle cx="532.7" cy="647.6" r="5.95"/>
<circle cx="532.1" cy="648.6" r="5.95"/>
<circle cx="533.9" cy="651.8" r="5.95"/>
<circle cx="529.1" cy="646.0" r="5.95"/>
<circle cx="530.1" cy="650.1" r="5.95"/>
<circle cx="531.1" cy="648.2" r="5.95"/>
<circle cx="533.0" cy="644.0" r="5.95"/>
<circle cx="527.1" cy="654.6" r="5.95"/>
<circle cx="526.5" cy="653.9" r="5.95"/>
<circle cx="527.8" cy="653.3" r="5.95"/>
<circle cx="524.7" cy="655.3" r="5.95"/>
<circle cx="525.7" cy="653.5" r="5.95"/>
<circle cx="522.6" cy="659.0" r="5.95"/>
<circle cx="524.4" cy="660.1" r="5.95"/>
<circle cx="521.0" cy="658.5" r="5.95"/>
<circle cx="524.0" cy="659.7" r="5.95"/>
<circle cx="522.9" cy="663.7" r="5.95"/>
<circle cx="521.1" cy="663.4" r="5.95"/>
<circle cx="520.5" cy="668.0" r="5.95"/>
<circle cx="515.2" cy="663.8" r="5.95"/>
<circle cx="520.0" cy="664.3" r="5.95"/>
<circle cx="518.2" cy="667.9" r="5.95"/>
<circle cx="514.2" cy="668.8" r="5.95"/>
<circle cx="513.1" cy="670.3" r="5.95"/>
<circle cx="510.7" cy="669.3" r="5.95"/>
<circle cx="513.5" cy="669.6" r="5.95"/>
<circle cx="511.8" cy="669.0" r="5.95"/>
<circle cx="512.0" cy="670.0" r="5.95"/>
<circle cx="512.5" cy="671.9" r="5.95"/>
<circle cx="505.3" cy="674.7" r="5.95"/>
<circle cx="510.0" cy="678.5" r="5.95"/>
<circle cx="507.7" cy="673.9" r="5.95"/>
<circle cx="509.3" cy="675.9" r="5.95"/>
<circle cx="502.3" cy="682.4" r="5.95"/>
<circle cx="501.1" cy="681.6" r="5.95"/>
<circle cx="502.5" cy="677.5" r="5.95"/>
<circle cx="501.3" cy="681.0" r="5.95"/>
<circle cx="499.3" cy="681.2" r="5.95"/>
<circle cx="500.2" cy="680.6" r="5.95"/>
<circle cx="500.9" cy="682.6" r="5.95"/>
<circle cx="501.2" cy="679.7" r="5.95"/>
<circle cx="498.3" cy="679.0" r="5.95"/>
<circle cx="495.5" cy="686.0" r="5.95"/>
<circle cx="490.6" cy="686.8" r="5.95"/>
<circle cx="491.2" cy="688.4" r="5.95"/>
<circle cx="481.8" cy="688.7" r="5.95"/>
<circle cx="484.8" cy="688.9" r="5.95"/>
<circle cx="484.6" cy="695.7" r="5.95"/>
<circle cx="487.0" cy="698.6" r="5.95"/>
<circle cx="487.6" cy="704.5" r="5.95"/>
<circle cx="488.1" cy="702.1" r="5.95"/>
<circle cx="485.9" cy="701.2" r="5.95"/>
<circle cx="487.4" cy="701.9" r="5.95"/>
<circle cx="475.3" cy="707.9" r="5.95"/>
<circle cx="479.4" cy="706.5" r="5.95"/>
<circle cx="477.9" cy="707.5" r="5.95"/>
<circle cx="478.1" cy="706.9" r="5.95"/>
<circle cx="478.0" cy="702.9" r="5.95"/>
<circle cx="478.8" cy="706.8" r="5.95"/>
<circle cx="475.5" cy="716.4" r="5.95"/>
<circle cx="477.3" cy="714.6" r="5.95"/>
<circle cx="470.2" cy="716.6" r="5.95"/>
<circle cx="467.8" cy="719.0" r="5.95"/>
<circle cx="467.5" cy="714.7" r="5.95"/>
<circle cx="458.4" cy="724.6" r="5.95"/>
<circle cx="460.2" cy="727.7" r="5.95"/>
<circle cx="459.3" cy="722.1" r="5.95"/>
<circle cx="460.8" cy="721.1" r="5.95"/>
<circle cx="453.7" cy="718.3" r="5.95"/>
<circle cx="451.3" cy="719.2" r="5.95"/>
<circle cx="453.6" cy="721.2" r="5.95"/>
<circle cx="449.7" cy="727.2" r="5.95"/>
<circle cx="451.4" cy="732.7" r="5.95"/>
<circle cx="451.7" cy="732.4" r="5.95"/>
<circle cx="454.8" cy="742.5" r="5.95"/>
<circle cx="453.4" cy="740.5" r="5.95"/>
<circle cx="455.3" cy="739.9" r="5.95"/>
<circle cx="454.6" cy="741.0" r="5.95"/>
<circle cx="452.1" cy="737.9" r="5.95"/>
<circle cx="454.5" cy="738.8" r="5.95"/>
<circle cx="454.2" cy="740.6" r="5.95"/>
<circle cx="454.5" cy="748.4" r="5.95"/>
<circle cx="454.9" cy="746.1" r="5.95"/>
<circle cx="459.3" cy="747.9" r="5.95"/>
<circle cx="456.4" cy="745.1" r="5.95"/>
<circle cx="456.5" cy="748.6" r="5.95"/>
<circle cx="456.8" cy="748.1" r="5.95"/>
<circle cx="456.0" cy="746.9" r="5.95"/>
<circle cx="455.5" cy="746.7" r="5.95"/>
<circle cx="457.9" cy="743.7" r="5.95"/>
<circle cx="451.1" cy="753.2" r="5.95"/>
<circle cx="453.4" cy="750.9" r="5.95"/>
<circle cx="440.5" cy="754.0" r="5.95"/>
<circle cx="440.5" cy="754.2" r="5.95"/>
<circle cx="436.7" cy="755.1" r="5.95"/>
<circle cx="441.7" cy="762.0" r="5.95"/>
<circle cx="440.4" cy="761.3" r="5.95"/>
<circle cx="444.6" cy="762.6" r="5.95"/>
<circle cx="442.0" cy="761.7" r="5.95"/>
<circle cx="436.5" cy="765.8" r="5.95"/>
<circle cx="432.5" cy="769.6" r="5.95"/>
<circle cx="427.0" cy="768.4" r="5.95"/>
<circle cx="425.0" cy="767.7" r="5.95"/>
<circle cx="426.9" cy="772.0" r="5.95"/>
<circle cx="426.9" cy="775.1" r="5.95"/>
<circle cx="426.8" cy="773.6" r="5.95"/>
<circle cx="428.0" cy="773.6" r="5.95"/>
<circle cx="426.6" cy="780.8" r="5.95"/>
<circle cx="421.1" cy="782.0" r="5.95"/>
<circle cx="419.9" cy="781.8" r="5.95"/>
<circle cx="422.4" cy="779.9" r="5.95"/>
<circle cx="417.3" cy="792.2" r="5.95"/>
<circle cx="420.0" cy="791.7" r="5.95"/>
<circle cx="414.5" cy="790.8" r="5.95"/>
<circle cx="413.3" cy="793.5" r="5.95"/>
<circle cx="415.7" cy="794.3" r="5.95"/>
<circle cx="413.9" cy="794.1" r="5.95"/>
<circle cx="412.4" cy="795.4" r="5.95"/>
<circle cx="412.6" cy="802.9" r="5.95"/>
<circle cx="411.4" cy="804.0" r="5.95"/>
<circle cx="413.1" cy="801.7" r="5.95"/>
<circle cx="412.3" cy="801.2" r="5.95"/>
<circle cx="406.2" cy="806.4" r="5.95"/>
<circle cx="407.1" cy="805.7" r="5.95"/>
<circle cx="402.5" cy="809.6" r="5.95"/>
<circle cx="400.8" cy="810.6" r="5.95"/>
<circle cx="403.4" cy="811.7" r="5.95"/>
<circle cx="400.6" cy="814.0" r="5.95"/>
<circle cx="403.8" cy="814.7" r="5.95"/>
<circle cx="394.9" cy="816.9" r="5.95"/>
<circle cx="393.2" cy="817.7" r="5.95"/>
<circle cx="398.8" cy="817.4" r="5.95"/>
<circle cx="397.0" cy="815.8" r="5.95"/>
<circle cx="394.7" cy="823.7" r="5.95"/>
<circle cx="394.1" cy="820.8" r="5.95"/>
<circle cx="391.8" cy="823.5" r="5.95"/>
<circle cx="390.1" cy="822.6" r="5.95"/>
<circle cx="393.5" cy="825.2" r="5.95"/>
<circle cx="385.4" cy="829.8" r="5.95"/>
<circle cx="387.2" cy="828.4" r="5.95"/>
<circle cx="384.7" cy="829.6" r="5.95"/>
<circle cx="388.0" cy="829.8" r="5.95"/>
<circle cx="387.2" cy="831.2" r="5.95"/>
<circle cx="392.1" cy="834.6" r="5.95"/>
<circle cx="392.2" cy="836.4" r="5.95"/>
<circle cx="390.8" cy="837.1" r="5.95"/>
<circle cx="392.3" cy="836.6" r="5.95"/>
<circle cx="393.0" cy="838.2" r="5.95"/>
<circle cx="391.5" cy="834.7" r="5.95"/>
<circle cx="392.2" cy="835.2" r="5.95"/>
<circle cx="389.0" cy="838.2" r="5.95"/>
<circle cx="392.2" cy="832.9" r="5.95"/>
<circle cx="390.8" cy="835.8" r="5.95"/>
<circle cx="391.2" cy="834.8" r="5.95"/>
<circle cx="392.0" cy="836.9" r="5.95"/>
<circle cx="393.0" cy="835.7" r="5.95"/>
<circle cx="392.1" cy="833.0" r="5.95"/>
<circle cx="389.6" cy="835.4" r="5.95"/>
<circle cx="390.8" cy="835.6" r="5.95"/>
<circle cx="390.5" cy="834.4" r="5.95"/>
<circle cx="391.4" cy="832.6" r="5.95"/>
<circle cx="389.9" cy="836.3" r="5.95"/>
<circle cx="391.6" cy="833.7" r="5.95"/>
<circle cx="391.9" cy="837.9" r="5.95"/>
<circle cx="393.4" cy="833.5" r="5.95"/>
<circle cx="390.8" cy="832.6" r="5.95"/>
<circle cx="390.7" cy="833.3" r="5.95"/>
<circle cx="390.4" cy="835.8" r="5.95"/>
<circle cx="391.2" cy="834.9" r="5.95"/>
<circle cx="389.5" cy="836.8" r="5.95"/>
<circle cx="391.1" cy="833.2" r="5.95"/>
<circle cx="391.6" cy="837.1" r="5.95"/>
<circle cx="389.7" cy="836.0" r="5.95"/>
<circle cx="389.8" cy="836.7" r="5.95"/>
<circle cx="392.4" cy="835.0" r="5.95"/>
<circle cx="390.2" cy="833.1" r="5.95"/>
<circle cx="390.4" cy="836.6" r="5.95"/>
<circle cx="392.0" cy="835.3" r="5.95"/>
<circle cx="390.8" cy="835.1" r="5.95"/>
<circle cx="392.3" cy="832.6" r="5.95"/>
<circle cx="391.0" cy="835.3" r="5.95"/>
<circle cx="390.0" cy="834.5" r="5.95"/>
<circle cx="391.3" cy="833.5" r="5.95"/>
<circle cx="389.9" cy="833.1" r="5.95"/>
<circle cx="390.2" cy="835.2" r="5.95"/>
<circle cx="392.5" cy="835.0" r="5.95"/>
<circle cx="391.0" cy="833.9" r="5.95"/>
<circle cx="391.7" cy="834.6" r="5.95"/>
</g>
<line x1="169.25" y1="848.30" x2="169.25" y2="543.90" stroke="#d3d3d3" stroke-width="2" stroke-dasharray="2 6" stroke-linecap="round"/>
<line x1="250.85" y1="848.30" x2="250.85" y2="543.90" stroke="#d3d3d3" stroke-width="2" stroke-dasharray="2 6" stroke-linecap="round"/>
<line x1="332.45" y1="848.30" x2="332.45" y2="543.90" stroke="#d3d3d3" stroke-width="2" stroke-dasharray="2 6" stroke-linecap="round"/>
<line x1="414.05" y1="848.30" x2="414.05" y2="543.90" stroke="#d3d3d3" stroke-width="2" stroke-dasharray="2 6" stroke-linecap="round"/>
<line x1="495.65" y1="848.30" x2="495.65" y2="543.90" stroke="#d3d3d3" stroke-width="2" stroke-dasharray="2 6" stroke-linecap="round"/>
<line x1="577.25" y1="848.30" x2="577.25" y2="543.90" stroke="#d3d3d3" stroke-width="2" stroke-dasharray="2 6" stroke-linecap="round"/>
<line x1="111.55" y1="817.11" x2="608.40" y2="817.11" stroke="#d3d3d3" stroke-width="2" stroke-dasharray="2 6" stroke-linecap="round"/>
<line x1="111.55" y1="765.27" x2="608.40" y2="765.27" stroke="#d3d3d3" stroke-width="2" stroke-dasharray="2 6" stroke-linecap="round"/>
<line x1="111.55" y1="713.43" x2="608.40" y2="713.43" stroke="#d3d3d3" stroke-width="2" stroke-dasharray="2 6" stroke-linecap="round"/>
<line x1="111.55" y1="661.59" x2="608.40" y2="661.59" stroke="#d3d3d3" stroke-width="2" stroke-dasharray="2 6" stroke-linecap="round"/>
<line x1="111.55" y1="609.75" x2="608.40" y2="609.75" stroke="#d3d3d3" stroke-width="2" stroke-dasharray="2 6" stroke-linecap="round"/>
<line x1="111.55" y1="557.91" x2="608.40" y2="557.91" stroke="#d3d3d3" stroke-width="2" stroke-dasharray="2 6" stroke-linecap="round"/>
<g clip-path="url(#c3)">
<polyline points="111.55,636.89 114.03,635.70 116.52,634.51 119.00,633.32 121.49,632.14 123.97,630.95 126.46,629.77 128.94,628.59 131.42,627.41 133.91,626.24 136.39,625.06 138.88,623.89 141.36,622.72 143.85,621.55 146.33,620.38 148.81,619.22 151.30,618.06 153.78,616.90 156.27,615.74 158.75,614.58 161.24,613.43 163.72,612.27 166.20,611.12 168.69,609.97 171.17,608.82 173.66,607.68 176.14,606.54 178.62,605.39 181.11,604.25 183.59,603.11 186.08,601.98 188.56,600.84 191.05,599.71 193.53,598.58 196.01,597.45 198.50,596.32 200.98,595.19 203.47,594.07 205.95,592.95 208.44,591.83 210.92,590.71 213.40,589.59 215.89,588.47 218.37,587.36 220.86,586.24 223.34,585.13 225.83,584.02 228.31,582.92 230.79,581.81 233.28,580.71 235.76,579.60 238.25,578.50 240.73,577.40 243.22,576.30 245.70,575.21 248.18,574.11 250.67,573.02 253.15,571.93 255.64,570.83 258.12,569.75 260.60,568.66 263.09,567.57 265.57,566.49 268.06,565.40 270.54,564.32 273.03,563.24 275.51,562.17 277.99,561.09 280.48,560.01 282.96,558.94 285.45,557.87 287.93,556.80 290.42,555.73 292.90,554.66 295.38,553.59 297.87,552.52 300.35,551.46 302.84,550.40 305.32,549.34 307.81,548.28 310.29,547.22 312.77,546.16 315.26,545.11 317.74,544.05 320.23,543.00 322.71,541.95 325.20,540.90 327.68,539.85 330.16,538.80 332.65,537.76 335.13,536.71 337.62,535.67 340.10,534.62 342.59,533.58 345.07,532.54 347.55,531.51 350.04,530.47 352.52,529.43 355.01,528.40 357.49,527.37 359.98,526.33 362.46,525.30 364.94,524.27 367.43,523.25 369.91,522.22 372.40,521.19 374.88,520.17 377.36,519.15 379.85,518.12 382.33,517.10 384.82,516.08 387.30,515.07 389.79,514.05 392.27,513.03 394.75,512.02 397.24,511.01 399.72,509.99 402.21,508.98 404.69,507.97 407.18,506.96 409.66,505.96 412.14,504.95 414.63,503.95 417.11,502.94 419.60,501.94 422.08,500.94 424.57,499.94 427.05,498.94 429.53,497.94 432.02,496.94 434.50,495.95 436.99,494.95 439.47,493.96 441.96,492.96 444.44,491.97 446.92,490.98 449.41,489.99 451.89,489.00 454.38,488.02 456.86,487.03 459.35,486.05 461.83,485.06 464.31,484.08 466.80,483.10 469.28,482.12 471.77,481.14 474.25,480.16 476.73,479.18 479.22,478.21 481.70,477.23 484.19,476.26 486.67,475.28 489.16,474.31 491.64,473.34 494.12,472.37 496.61,471.40 499.09,470.43 501.58,469.46 504.06,468.50 506.55,467.53 509.03,466.57 511.51,465.61 514.00,464.64 516.48,463.68 518.97,462.72 521.45,461.76 523.94,460.80 526.42,459.85 528.90,458.89 531.39,457.94 533.87,456.98 536.36,456.03 538.84,455.08 541.33,454.12 543.81,453.17 546.29,452.22 548.78,451.28 551.26,450.33 553.75,449.38 556.23,448.44 558.72,447.49 561.20,446.55 563.68,445.60 566.17,444.66 568.65,443.72 571.14,442.78 573.62,441.84 576.10,440.90 578.59,439.97 581.07,439.03 583.56,438.09 586.04,437.16 588.53,436.23 591.01,435.29 593.49,434.36 595.98,433.43 598.46,432.50 600.95,431.57 603.43,430.64 605.92,429.71 608.40,428.79" fill="none" stroke="#7f7f7f" stroke-width="2"/>
<polyline points="111.55,747.85 114.03,746.43 116.52,745.01 119.00,743.60 121.49,742.19 123.97,740.79 126.46,739.39 128.94,737.99 131.42,736.60 133.91,735.21 136.39,733.82 138.88,732.44 141.36,731.06 143.85,729.68 146.33,728.31 148.81,726.94 151.30,725.57 153.78,724.21 156.27,722.85 158.75,721.49 161.24,720.14 163.72,718.79 166.20,717.44 168.69,716.10 171.17,714.76 173.66,713.42 176.14,712.09 178.62,710.76 181.11,709.43 183.59,708.10 186.08,706.78 188.56,705.46 191.05,704.14 193.53,702.83 196.01,701.52 198.50,700.21 200.98,698.90 203.47,697.60 205.95,696.30 208.44,695.00 210.92,693.71 213.40,692.42 215.89,691.13 218.37,689.84 220.86,688.56 223.34,687.28 225.83,686.00 228.31,684.73 230.79,683.45 233.28,682.18 235.76,680.92 238.25,679.65 240.73,678.39 243.22,677.13 245.70,675.87 248.18,674.62 250.67,673.36 253.15,672.11 255.64,670.87 258.12,669.62 260.60,668.38 263.09,667.14 265.57,665.90 268.06,664.66 270.54,663.43 273.03,662.20 275.51,660.97 277.99,659.74 280.48,658.52 282.96,657.30 285.45,656.08 287.93,654.86 290.42,653.64 292.90,652.43 295.38,651.22 297.87,650.01 300.35,648.80 302.84,647.60 305.32,646.40 307.81,645.20 310.29,644.00 312.77,642.80 315.26,641.61 317.74,640.42 320.23,639.23 322.71,638.04 325.20,636.85 327.68,635.67 330.16,634.49 332.65,633.31 335.13,632.13 337.62,630.96 340.10,629.78 342.59,628.61 345.07,627.44 347.55,626.27 350.04,625.11 352.52,623.94 355.01,622.78 357.49,621.62 359.98,620.46 362.46,619.31 364.94,618.15 367.43,617.00 369.91,615.85 372.40,614.70 374.88,613.55 377.36,612.41 379.85,611.27 382.33,610.12 384.82,608.98 387.30,607.85 389.79,606.71 392.27,605.58 394.75,604.44 397.24,603.31 399.72,602.18 402.21,601.05 404.69,599.93 407.18,598.80 409.66,597.68 412.14,596.56 414.63,595.44 417.11,594.32 419.60,593.21 422.08,592.09 424.57,590.98 427.05,589.87 429.53,588.76 432.02,587.65 434.50,586.55 436.99,585.44 439.47,584.34 441.96,583.24 444.44,582.14 446.92,581.04 449.41,579.95 451.89,578.85 454.38,577.76 456.86,576.66 459.35,575.57 461.83,574.49 464.31,573.40 466.80,572.31 469.28,571.23 471.77,570.15 474.25,569.06 476.73,567.98 479.22,566.91 481.70,565.83 484.19,564.75 486.67,563.68 489.16,562.61 491.64,561.54 494.12,560.47 496.61,559.40 499.09,558.33 501.58,557.27 504.06,556.20 506.55,555.14 509.03,554.08 511.51,553.02 514.00,551.96 516.48,550.90 518.97,549.85 521.45,548.79 523.94,547.74 526.42,546.69 528.90,545.64 531.39,544.59 533.87,543.54 536.36,542.50 538.84,541.45 541.33,540.41 543.81,539.36 546.29,538.32 548.78,537.28 551.26,536.25 553.75,535.21 556.23,534.17 558.72,533.14 561.20,532.11 563.68,531.07 566.17,530.04 568.65,529.01 571.14,527.99 573.62,526.96 576.10,525.93 578.59,524.91 581.07,523.88 583.56,522.86 586.04,521.84 588.53,520.82 591.01,519.80 593.49,518.79 595.98,517.77 598.46,516.76 600.95,515.74 603.43,514.73 605.92,513.72 608.40,512.71" fill="none" stroke="#7f7f7f" stroke-width="2"/>
<polyline points="111.55,885.36 114.03,883.46 116.52,881.57 119.00,879.69 121.49,877.81 123.97,875.95 126.46,874.09 128.94,872.24 131.42,870.41 133.91,868.58 136.39,866.76 138.88,864.94 141.36,863.14 143.85,861.35 146.33,859.56 148.81,857.78 151.30,856.01 153.78,854.24 156.27,852.49 158.75,850.74 161.24,849.00 163.72,847.26 166.20,845.53 168.69,843.81 171.17,842.10 173.66,840.40 176.14,838.70 178.62,837.00 181.11,835.32 183.59,833.64 186.08,831.97 188.56,830.30 191.05,828.64 193.53,826.99 196.01,825.34 198.50,823.70 200.98,822.06 203.47,820.43 205.95,818.81 208.44,817.19 210.92,815.58 213.40,813.97 215.89,812.37 218.37,810.77 220.86,809.18 223.34,807.60 225.83,806.02 228.31,804.45 230.79,802.88 233.28,801.31 235.76,799.75 238.25,798.20 240.73,796.65 243.22,795.11 245.70,793.57 248.18,792.04 250.67,790.51 253.15,788.98 255.64,787.47 258.12,785.95 260.60,784.44 263.09,782.93 265.57,781.43 268.06,779.94 270.54,778.44 273.03,776.96 275.51,775.47 277.99,773.99 280.48,772.52 282.96,771.05 285.45,769.58 287.93,768.12 290.42,766.66 292.90,765.21 295.38,763.76 297.87,762.31 300.35,760.87 302.84,759.43 305.32,758.00 307.81,756.56 310.29,755.14 312.77,753.71 315.26,752.30 317.74,750.88 320.23,749.47 322.71,748.06 325.20,746.65 327.68,745.25 330.16,743.86 332.65,742.46 335.13,741.07 337.62,739.68 340.10,738.30 342.59,736.92 345.07,735.54 347.55,734.17 350.04,732.80 352.52,731.43 355.01,730.07 357.49,728.71 359.98,727.35 362.46,726.00 364.94,724.65 367.43,723.30 369.91,721.95 372.40,720.61 374.88,719.27 377.36,717.94 379.85,716.61 382.33,715.28 384.82,713.95 387.30,712.63 389.79,711.31 392.27,709.99 394.75,708.67 397.24,707.36 399.72,706.05 402.21,704.75 404.69,703.44 407.18,702.14 409.66,700.85 412.14,699.55 414.63,698.26 417.11,696.97 419.60,695.68 422.08,694.40 424.57,693.12 427.05,691.84 429.53,690.56 432.02,689.29 434.50,688.02 436.99,686.75 439.47,685.48 441.96,684.22 444.44,682.96 446.92,681.70 449.41,680.44 451.89,679.19 454.38,677.94 456.86,676.69 459.35,675.44 461.83,674.20 464.31,672.96 466.80,671.72 469.28,670.48 471.77,669.25 474.25,668.01 476.73,666.78 479.22,665.56 481.70,664.33 484.19,663.11 486.67,661.89 489.16,660.67 491.64,659.45 494.12,658.24 496.61,657.03 499.09,655.82 501.58,654.61 504.06,653.40 506.55,652.20 509.03,651.00 511.51,649.80 514.00,648.60 516.48,647.41 518.97,646.21 521.45,645.02 523.94,643.84 526.42,642.65 528.90,641.46 531.39,640.28 533.87,639.10 536.36,637.92 538.84,636.75 541.33,635.57 543.81,634.40 546.29,633.23 548.78,632.06 551.26,630.89 553.75,629.73 556.23,628.56 558.72,627.40 561.20,626.24 563.68,625.08 566.17,623.93 568.65,622.78 571.14,621.62 573.62,620.47 576.10,619.33 578.59,618.18 581.07,617.03 583.56,615.89 586.04,614.75 588.53,613.61 591.01,612.47 593.49,611.34 595.98,610.20 598.46,609.07 600.95,607.94 603.43,606.81 605.92,605.69 608.40,604.56" fill="none" stroke="#7f7f7f" stroke-width="2"/>
<polyline points="111.55,1121.34 114.03,1115.54 116.52,1110.04 119.00,1104.81 121.49,1099.80 123.97,1094.98 126.46,1090.35 128.94,1085.86 131.42,1081.53 133.91,1077.31 136.39,1073.22 138.88,1069.24 141.36,1065.35 143.85,1061.55 146.33,1057.85 148.81,1054.22 151.30,1050.66 153.78,1047.18 156.27,1043.76 158.75,1040.40 161.24,1037.10 163.72,1033.86 166.20,1030.67 168.69,1027.53 171.17,1024.44 173.66,1021.39 176.14,1018.39 178.62,1015.42 181.11,1012.50 183.59,1009.62 186.08,1006.77 188.56,1003.96 191.05,1001.18 193.53,998.43 196.01,995.72 198.50,993.03 200.98,990.38 203.47,987.75 205.95,985.15 208.44,982.58 210.92,980.03 213.40,977.51 215.89,975.01 218.37,972.53 220.86,970.08 223.34,967.65 225.83,965.24 228.31,962.85 230.79,960.48 233.28,958.13 235.76,955.80 238.25,953.49 240.73,951.19 243.22,948.92 245.70,946.66 248.18,944.42 250.67,942.19 253.15,939.98 255.64,937.79 258.12,935.61 260.60,933.45 263.09,931.30 265.57,929.17 268.06,927.05 270.54,924.94 273.03,922.85 275.51,920.77 277.99,918.70 280.48,916.65 282.96,914.61 285.45,912.58 287.93,910.56 290.42,908.56 292.90,906.56 295.38,904.58 297.87,902.61 300.35,900.65 302.84,898.70 305.32,896.76 307.81,894.83 310.29,892.91 312.77,891.00 315.26,889.10 317.74,887.21 320.23,885.33 322.71,883.46 325.20,881.60 327.68,879.74 330.16,877.90 332.65,876.07 335.13,874.24 337.62,872.42 340.10,870.61 342.59,868.81 345.07,867.02 347.55,865.23 350.04,863.46 352.52,861.69 355.01,859.92 357.49,858.17 359.98,856.42 362.46,854.68 364.94,852.95 367.43,851.23 369.91,849.51 372.40,847.80 374.88,846.09 377.36,844.39 379.85,842.70 382.33,841.02 384.82,839.34 387.30,837.67 389.79,836.00 392.27,834.35 394.75,832.69 397.24,831.05 399.72,829.41 402.21,827.77 404.69,826.14 407.18,824.52 409.66,822.90 412.14,821.29 414.63,819.69 417.11,818.09 419.60,816.49 422.08,814.90 424.57,813.32 427.05,811.74 429.53,810.17 432.02,808.60 434.50,807.04 436.99,805.48 439.47,803.93 441.96,802.38 444.44,800.84 446.92,799.30 449.41,797.76 451.89,796.24 454.38,794.71 456.86,793.19 459.35,791.68 461.83,790.17 464.31,788.66 466.80,787.16 469.28,785.67 471.77,784.17 474.25,782.69 476.73,781.20 479.22,779.72 481.70,778.25 484.19,776.78 486.67,775.31 489.16,773.85 491.64,772.39 494.12,770.94 496.61,769.49 499.09,768.04 501.58,766.60 504.06,765.16 506.55,763.73 509.03,762.30 511.51,760.87 514.00,759.45 516.48,758.03 518.97,756.61 521.45,755.20 523.94,753.79 526.42,752.39 528.90,750.98 531.39,749.59 533.87,748.19 536.36,746.80 538.84,745.41 541.33,744.03 543.81,742.65 546.29,741.27 548.78,739.90 551.26,738.53 553.75,737.16 556.23,735.80 558.72,734.44 561.20,733.08 563.68,731.72 566.17,730.37 568.65,729.02 571.14,727.68 573.62,726.34 576.10,725.00 578.59,723.66 581.07,722.33 583.56,721.00 586.04,719.67 588.53,718.35 591.01,717.03 593.49,715.71 595.98,714.40 598.46,713.08 600.95,711.77 603.43,710.47 605.92,709.16 608.40,707.86" fill="none" stroke="#7f7f7f" stroke-width="2"/>
<polyline points="111.55,1257.75 114.03,1257.75 116.52,1257.75 119.00,1257.75 121.49,1257.75 123.97,1257.75 126.46,1257.75 128.94,1257.75 131.42,1257.75 133.91,1257.75 136.39,1257.75 138.88,1257.75 141.36,1257.75 143.85,1257.75 146.33,1257.75 148.81,1257.75 151.30,1257.75 153.78,1257.75 156.27,1257.75 158.75,1257.75 161.24,1257.75 163.72,1257.75 166.20,1257.75 168.69,1257.75 171.17,1257.75 173.66,1257.75 176.14,1257.75 178.62,1257.75 181.11,1257.75 183.59,1257.75 186.08,1257.75 188.56,1257.75 191.05,1257.75 193.53,1257.75 196.01,1257.75 198.50,1257.75 200.98,1257.75 203.47,1257.75 205.95,1257.75 208.44,1257.75 210.92,1257.75 213.40,1257.75 215.89,1257.75 218.37,1257.75 220.86,1257.75 223.34,1257.75 225.83,1257.75 228.31,1257.75 230.79,1257.75 233.28,1257.75 235.76,1257.75 238.25,1257.75 240.73,1257.75 243.22,1257.75 245.70,1257.75 248.18,1257.75 250.67,1257.75 253.15,1257.75 255.64,1257.75 258.12,1257.75 260.60,1257.75 263.09,1257.75 265.57,1257.75 268.06,1257.75 270.54,1257.75 273.03,1257.75 275.51,1257.75 277.99,1257.75 280.48,1257.75 282.96,1257.75 285.45,1257.75 287.93,1257.75 290.42,1257.75 292.90,1192.55 295.38,1178.12 297.87,1167.21 300.35,1158.05 302.84,1149.99 305.32,1142.71 307.81,1136.01 310.29,1129.77 312.77,1123.90 315.26,1118.35 317.74,1113.06 320.23,1108.01 322.71,1103.16 325.20,1098.48 327.68,1093.97 330.16,1089.60 332.65,1085.36 335.13,1081.24 337.62,1077.23 340.10,1073.32 342.59,1069.51 345.07,1065.78 347.55,1062.13 350.04,1058.56 352.52,1055.06 355.01,1051.62 357.49,1048.25 359.98,1044.93 362.46,1041.68 364.94,1038.47 367.43,1035.32 369.91,1032.21 372.40,1029.15 374.88,1026.14 377.36,1023.16 379.85,1020.23 382.33,1017.33 384.82,1014.48 387.30,1011.65 389.79,1008.86 392.27,1006.11 394.75,1003.38 397.24,1000.69 399.72,998.02 402.21,995.39 404.69,992.78 407.18,990.20 409.66,987.64 412.14,985.11 414.63,982.60 417.11,980.12 419.60,977.66 422.08,975.22 424.57,972.80 427.05,970.40 429.53,968.02 432.02,965.67 434.50,963.33 436.99,961.01 439.47,958.71 441.96,956.43 444.44,954.16 446.92,951.91 449.41,949.68 451.89,947.47 454.38,945.27 456.86,943.08 459.35,940.91 461.83,938.76 464.31,936.62 466.80,934.49 469.28,932.38 471.77,930.28 474.25,928.20 476.73,926.12 479.22,924.06 481.70,922.02 484.19,919.98 486.67,917.96 489.16,915.95 491.64,913.95 494.12,911.96 496.61,909.98 499.09,908.02 501.58,906.06 504.06,904.12 506.55,902.18 509.03,900.26 511.51,898.34 514.00,896.44 516.48,894.54 518.97,892.66 521.45,890.78 523.94,888.92 526.42,887.06 528.90,885.21 531.39,883.37 533.87,881.54 536.36,879.72 538.84,877.90 541.33,876.10 543.81,874.30 546.29,872.51 548.78,870.73 551.26,868.95 553.75,867.19 556.23,865.43 558.72,863.68 561.20,861.93 563.68,860.19 566.17,858.46 568.65,856.74 571.14,855.03 573.62,853.32 576.10,851.62 578.59,849.92 581.07,848.23 583.56,846.55 586.04,844.87 588.53,843.21 591.01,841.54 593.49,839.89 595.98,838.24 598.46,836.59 600.95,834.95 603.43,833.32 605.92,831.69 608.40,830.07" fill="none" stroke="#7f7f7f" stroke-width="2"/>
</g>
<rect x="111.55" y="543.90" width="496.85" height="304.40" fill="none" stroke="#000" stroke-width="2.6" stroke-linejoin="round"/>
<line x1="95.55" y1="817.11" x2="111.55" y2="817.11" stroke="#000" stroke-width="2" />
<line x1="95.55" y1="765.27" x2="111.55" y2="765.27" stroke="#000" stroke-width="2" />
<line x1="95.55" y1="713.43" x2="111.55" y2="713.43" stroke="#000" stroke-width="2" />
<line x1="95.55" y1="661.59" x2="111.55" y2="661.59" stroke="#000" stroke-width="2" />
<line x1="95.55" y1="609.75" x2="111.55" y2="609.75" stroke="#000" stroke-width="2" />
<line x1="95.55" y1="557.91" x2="111.55" y2="557.91" stroke="#000" stroke-width="2" />
<text transform="translate(82.50 817.11) rotate(-90) scale(1 1.05)" fill="#000" font-size="26.56" text-anchor="middle" >12</text>
<text transform="translate(82.50 713.43) rotate(-90) scale(1 1.05)" fill="#000" font-size="26.56" text-anchor="middle" >16</text>
<text transform="translate(82.50 609.75) rotate(-90) scale(1 1.05)" fill="#000" font-size="26.56" text-anchor="middle" >20</text>
<text transform="translate(35.10 695.60) rotate(-90) scale(1 1.05)" fill="#000" font-size="26.56" text-anchor="middle" >θ [ °C ]</text>
<line x1="169.25" y1="848.30" x2="169.25" y2="864.30" stroke="#000" stroke-width="2" />
<text transform="translate(169.25 896.30) scale(1 1.05)" fill="#000" font-size="26.56" text-anchor="middle" >34.0</text>
<line x1="250.85" y1="848.30" x2="250.85" y2="864.30" stroke="#000" stroke-width="2" />
<text transform="translate(250.85 896.30) scale(1 1.05)" fill="#000" font-size="26.56" text-anchor="middle" >34.5</text>
<line x1="332.45" y1="848.30" x2="332.45" y2="864.30" stroke="#000" stroke-width="2" />
<text transform="translate(332.45 896.30) scale(1 1.05)" fill="#000" font-size="26.56" text-anchor="middle" >35.0</text>
<line x1="414.05" y1="848.30" x2="414.05" y2="864.30" stroke="#000" stroke-width="2" />
<text transform="translate(414.05 896.30) scale(1 1.05)" fill="#000" font-size="26.56" text-anchor="middle" >35.5</text>
<line x1="495.65" y1="848.30" x2="495.65" y2="864.30" stroke="#000" stroke-width="2" />
<text transform="translate(495.65 896.30) scale(1 1.05)" fill="#000" font-size="26.56" text-anchor="middle" >36.0</text>
<line x1="577.25" y1="848.30" x2="577.25" y2="864.30" stroke="#000" stroke-width="2" />
<text transform="translate(577.25 896.30) scale(1 1.05)" fill="#000" font-size="26.56" text-anchor="middle" >36.5</text>
<text transform="translate(359.97 936.40) scale(1 1.05)" fill="#000" font-size="26.56" text-anchor="middle" >Salinity</text>
<text transform="translate(319.60 537.00) scale(1 1.05)" fill="#7f7f7f" font-size="18.6" text-anchor="middle" >24</text>
<text transform="translate(534.40 537.00) scale(1 1.05)" fill="#7f7f7f" font-size="18.6" text-anchor="middle" >25</text>
<text transform="translate(633.50 605.00) rotate(-90) scale(1 1.05)" fill="#7f7f7f" font-size="18.6" text-anchor="middle" >26</text>
<text transform="translate(633.50 708.00) rotate(-90) scale(1 1.05)" fill="#7f7f7f" font-size="18.6" text-anchor="middle" >27</text>
<text transform="translate(633.50 830.00) rotate(-90) scale(1 1.05)" fill="#7f7f7f" font-size="18.6" text-anchor="middle" >28</text>
</g>
<g id="p4">
<clipPath id="c4"><rect x="783.6" y="544.0" width="496.9" height="304.20000000000005"/></clipPath>
<g fill="#d3d3d3" clip-path="url(#c4)">
<polygon points="919.50,540.00 943.25,585.00 977.00,607.00 990.00,649.50 1032.00,660.50 1059.25,648.75 1080.50,589.50 1083.00,565.00 1084.50,540.00"/>
<polygon points="1249.25,649.25 1275.50,652.50 1279.00,660.00 1290.00,700.00 1290.00,803.00 1280.50,779.00 1264.25,738.75 1231.00,709.00"/>
<polygon points="884.50,848.50 895.75,842.50 905.00,843.30 942.00,847.00 960.00,849.00 960.00,855.00 884.00,855.00"/>
</g>
<circle cx="1032" cy="696" r="7" fill="#ff0000"/>
<rect x="783.60" y="544.00" width="496.90" height="304.20" fill="none" stroke="#000" stroke-width="2.1" stroke-linejoin="round"/>
<line x1="767.60" y1="764.25" x2="783.60" y2="764.25" stroke="#000" stroke-width="2" />
<line x1="1280.50" y1="764.25" x2="1296.50" y2="764.25" stroke="#000" stroke-width="2" />
<text transform="translate(754.50 764.25) rotate(-90) scale(1 1.05)" fill="#000" font-size="26.56" text-anchor="middle" >24</text>
<line x1="767.60" y1="668.50" x2="783.60" y2="668.50" stroke="#000" stroke-width="2" />
<line x1="1280.50" y1="668.50" x2="1296.50" y2="668.50" stroke="#000" stroke-width="2" />
<text transform="translate(754.50 668.50) rotate(-90) scale(1 1.05)" fill="#000" font-size="26.56" text-anchor="middle" >25</text>
<line x1="767.60" y1="572.75" x2="783.60" y2="572.75" stroke="#000" stroke-width="2" />
<line x1="1280.50" y1="572.75" x2="1296.50" y2="572.75" stroke="#000" stroke-width="2" />
<text transform="translate(754.50 572.75) rotate(-90) scale(1 1.05)" fill="#000" font-size="26.56" text-anchor="middle" >26</text>
<line x1="918.00" y1="528.00" x2="918.00" y2="544.00" stroke="#000" stroke-width="2" />
<line x1="918.00" y1="848.20" x2="918.00" y2="864.20" stroke="#000" stroke-width="2" />
<text transform="translate(918.00 896.00) scale(1 1.05)" fill="#000" font-size="26.56" text-anchor="middle" >-82</text>
<line x1="1092.00" y1="528.00" x2="1092.00" y2="544.00" stroke="#000" stroke-width="2" />
<line x1="1092.00" y1="848.20" x2="1092.00" y2="864.20" stroke="#000" stroke-width="2" />
<text transform="translate(1092.00 896.00) scale(1 1.05)" fill="#000" font-size="26.56" text-anchor="middle" >-80</text>
<line x1="1266.00" y1="528.00" x2="1266.00" y2="544.00" stroke="#000" stroke-width="2" />
<line x1="1266.00" y1="848.20" x2="1266.00" y2="864.20" stroke="#000" stroke-width="2" />
<text transform="translate(1266.00 896.00) scale(1 1.05)" fill="#000" font-size="26.56" text-anchor="middle" >-78</text>
<text transform="translate(784.30 520.80) scale(1 1.05)" fill="#000" font-size="26.56" text-anchor="start" >9.5</text>
<text transform="translate(1279.70 520.80) scale(1 1.05)" fill="#000" font-size="26.56" text-anchor="end" letter-spacing="0.13">2009-01-21 23:36:06</text>
</g>
</svg>
</body></html>
